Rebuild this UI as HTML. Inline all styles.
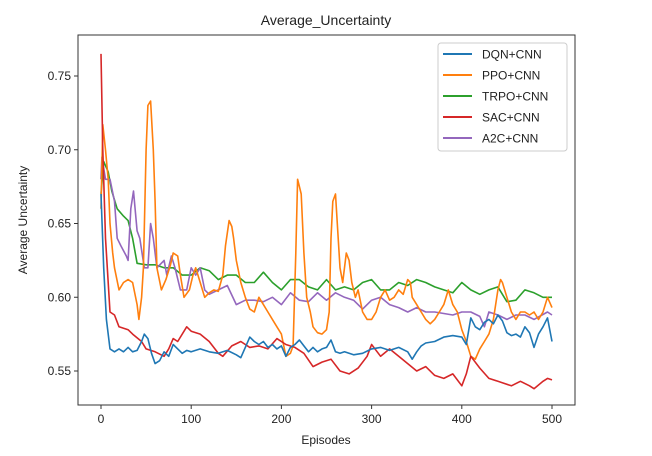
<!DOCTYPE html>
<html><head><meta charset="utf-8"><style>
body{margin:0;background:#fff}
svg{display:block;font-family:"Liberation Sans","DejaVu Sans",sans-serif}
</style></head><body>
<svg id="chart" width="652" height="456">
<rect x="0" y="0" width="652" height="456" fill="#fff"/>
<text x="326" y="25" text-anchor="middle" font-size="14" fill="#222">Average_Uncertainty</text>
<g id="axes"></g>
<g id="series"></g>
<rect x="78" y="35" width="497" height="370" fill="none" stroke="#333" stroke-width="1"/>
<text x="326" y="444" text-anchor="middle" font-size="12" fill="#222">Episodes</text>
<text transform="translate(27,220) rotate(-90)" text-anchor="middle" font-size="12" fill="#222">Average Uncertainty</text>
<g id="legend"></g>
</svg>
<script>
const xTicks=[0,100,200,300,400,500];
const yTicks=[0.55,0.60,0.65,0.70,0.75];
const seriesNames=["DQN+CNN","PPO+CNN","TRPO+CNN","SAC+CNN","A2C+CNN"];
const seriesColors=["#1f77b4","#ff7f0e","#2ca02c","#d62728","#9467bd"];
const dqnX=[0,3,6,10,15,20,25,30,35,40,45,48,52,56,60,65,70,75,80,85,90,95,100,110,120,130,140,150,155,160,165,170,175,180,185,190,195,200,205,210,215,220,225,230,235,240,245,250,255,260,265,270,280,290,300,310,320,330,340,345,350,355,360,370,380,390,400,405,410,415,420,425,430,435,440,445,450,455,460,465,470,475,480,485,490,495,500];
const dqnY=[0.67,0.62,0.585,0.565,0.563,0.565,0.563,0.566,0.563,0.564,0.57,0.575,0.572,0.562,0.555,0.557,0.563,0.56,0.568,0.565,0.562,0.564,0.563,0.565,0.563,0.562,0.564,0.561,0.559,0.566,0.573,0.57,0.568,0.57,0.566,0.568,0.565,0.567,0.56,0.566,0.568,0.571,0.567,0.563,0.566,0.563,0.565,0.566,0.571,0.563,0.562,0.563,0.561,0.562,0.565,0.566,0.564,0.566,0.563,0.558,0.563,0.567,0.569,0.57,0.573,0.574,0.573,0.568,0.586,0.58,0.578,0.583,0.585,0.582,0.588,0.584,0.576,0.574,0.575,0.573,0.58,0.576,0.566,0.575,0.58,0.586,0.57];
const ppoX=[0,2,5,8,10,13,15,20,25,30,35,40,42,45,47,50,52,55,58,60,62,67,72,77,80,85,88,92,98,102,105,110,115,120,125,130,135,138,142,145,147,150,155,160,165,170,175,180,185,190,195,200,205,210,213,216,218,220,222,225,228,232,235,240,245,250,253,255,257,260,263,265,268,272,275,278,282,285,290,295,300,305,310,315,320,325,330,335,340,343,345,350,355,360,365,370,375,380,385,390,395,400,405,410,415,420,425,430,435,440,443,445,450,455,460,465,470,475,480,485,490,495,500];
const ppoY=[0.66,0.717,0.70,0.68,0.65,0.63,0.62,0.605,0.61,0.612,0.61,0.595,0.585,0.6,0.62,0.70,0.73,0.733,0.70,0.665,0.62,0.605,0.612,0.622,0.63,0.628,0.615,0.60,0.605,0.615,0.62,0.61,0.60,0.603,0.605,0.604,0.615,0.635,0.652,0.648,0.64,0.625,0.61,0.60,0.592,0.59,0.60,0.595,0.59,0.585,0.58,0.575,0.56,0.562,0.567,0.63,0.68,0.675,0.67,0.63,0.60,0.59,0.58,0.576,0.575,0.578,0.59,0.64,0.665,0.67,0.64,0.62,0.61,0.63,0.625,0.61,0.60,0.605,0.59,0.585,0.585,0.59,0.60,0.605,0.598,0.60,0.605,0.602,0.612,0.61,0.60,0.595,0.59,0.585,0.582,0.585,0.59,0.595,0.605,0.595,0.59,0.578,0.57,0.56,0.558,0.565,0.57,0.575,0.585,0.605,0.612,0.61,0.60,0.59,0.585,0.59,0.59,0.588,0.59,0.585,0.59,0.6,0.593];
const trpoX=[0,3,8,12,18,25,30,35,40,50,60,70,80,90,100,110,120,130,140,150,160,170,180,190,200,210,220,230,240,250,260,270,280,290,300,310,320,330,340,350,360,370,380,390,400,410,420,430,440,450,460,470,480,490,500];
const trpoY=[0.67,0.692,0.685,0.672,0.66,0.655,0.652,0.64,0.623,0.622,0.622,0.62,0.62,0.615,0.615,0.62,0.618,0.612,0.615,0.615,0.61,0.61,0.617,0.61,0.605,0.612,0.612,0.607,0.605,0.612,0.605,0.607,0.605,0.61,0.612,0.605,0.605,0.61,0.608,0.612,0.61,0.607,0.605,0.603,0.61,0.605,0.602,0.605,0.607,0.597,0.598,0.605,0.603,0.6,0.6];
const sacX=[0,2,5,10,15,20,30,35,45,50,60,70,75,80,85,95,100,110,120,130,135,145,155,165,175,185,195,205,215,225,235,245,255,265,275,285,295,300,310,320,330,340,350,360,370,380,390,400,405,410,420,430,440,455,465,475,480,490,495,500];
const sacY=[0.765,0.70,0.64,0.59,0.588,0.58,0.578,0.575,0.57,0.565,0.563,0.56,0.565,0.572,0.57,0.58,0.577,0.575,0.57,0.562,0.56,0.567,0.57,0.566,0.567,0.565,0.572,0.568,0.566,0.562,0.553,0.556,0.558,0.55,0.548,0.552,0.56,0.568,0.56,0.565,0.56,0.555,0.55,0.553,0.547,0.545,0.548,0.54,0.548,0.56,0.552,0.545,0.543,0.54,0.543,0.54,0.538,0.543,0.545,0.544];
const a2cX=[0,1,5,10,15,18,22,28,30,33,36,40,43,48,52,55,58,62,70,73,78,82,88,95,100,105,110,115,120,130,140,150,160,170,180,190,200,210,220,230,240,250,260,270,280,290,300,310,320,330,340,350,360,370,380,390,400,410,420,425,430,440,450,460,470,480,495,500];
const a2cY=[0.68,0.695,0.68,0.68,0.665,0.64,0.635,0.628,0.625,0.66,0.672,0.645,0.64,0.62,0.62,0.65,0.64,0.62,0.625,0.615,0.628,0.62,0.605,0.605,0.62,0.615,0.62,0.605,0.602,0.605,0.608,0.595,0.598,0.598,0.597,0.6,0.595,0.603,0.598,0.597,0.603,0.598,0.603,0.6,0.598,0.592,0.598,0.6,0.595,0.593,0.59,0.593,0.59,0.59,0.589,0.588,0.59,0.59,0.587,0.58,0.59,0.588,0.585,0.588,0.588,0.585,0.59,0.588];
const xs=[dqnX,ppoX,trpoX,sacX,a2cX];
const ys=[dqnY,ppoY,trpoY,sacY,a2cY];

const NS="http://www.w3.org/2000/svg";
function sx(v){return 101+(v-0)*(552-101)/500;}
function sy(v){return 371-(v-0.55)*(371-76)/0.20;}
const axes=document.getElementById('axes');
xTicks.forEach(t=>{
  const l=document.createElementNS(NS,'line');
  l.setAttribute('x1',sx(t));l.setAttribute('x2',sx(t));l.setAttribute('y1',405);l.setAttribute('y2',409);l.setAttribute('stroke','#333');
  
  
  axes.appendChild(l);
  const tx=document.createElementNS(NS,'text');
  tx.setAttribute('x',sx(t));tx.setAttribute('y',423);tx.setAttribute('text-anchor','middle');tx.setAttribute('font-size','12');tx.setAttribute('fill','#222');
  tx.textContent=t;
  
  
  axes.appendChild(tx);
});
yTicks.forEach(t=>{
  const l=document.createElementNS(NS,'line');
  l.setAttribute('x1',74);l.setAttribute('x2',78);l.setAttribute('y1',sy(t));l.setAttribute('y2',sy(t));l.setAttribute('stroke','#333');
  
  
  axes.appendChild(l);
  const tx=document.createElementNS(NS,'text');
  tx.setAttribute('x',71);tx.setAttribute('y',sy(t)+4);tx.setAttribute('text-anchor','end');tx.setAttribute('font-size','12');tx.setAttribute('fill','#222');
  tx.textContent=t.toFixed(2);
  
  
  axes.appendChild(tx);
});
const sg=document.getElementById('series');
const order=[2,4,1,3,0];
order.forEach(i=>{
  const p=document.createElementNS(NS,'polyline');
  p.setAttribute('points',xs[i].map((x,k)=>sx(x).toFixed(1)+','+sy(ys[i][k]).toFixed(1)).join(' '));
  p.setAttribute('fill','none');p.setAttribute('stroke',seriesColors[i]);p.setAttribute('stroke-width','1.6');p.setAttribute('stroke-linejoin','round');
  
  
  sg.appendChild(p);
});
const lg=document.getElementById('legend');
const box=document.createElementNS(NS,'rect');
box.setAttribute('x',438);box.setAttribute('y',43);box.setAttribute('width',129);box.setAttribute('height',108);box.setAttribute('rx',3);
box.setAttribute('fill','#fff');box.setAttribute('stroke','#ccc');


lg.appendChild(box);
seriesNames.forEach((n,i)=>{
  const y=54+i*21;
  const l=document.createElementNS(NS,'line');
  l.setAttribute('x1',443);l.setAttribute('x2',472);l.setAttribute('y1',y);l.setAttribute('y2',y);l.setAttribute('stroke',seriesColors[i]);l.setAttribute('stroke-width','2');
  
  
  lg.appendChild(l);
  const t=document.createElementNS(NS,'text');
  t.setAttribute('x',482);t.setAttribute('y',y+4.5);t.setAttribute('font-size','12');t.setAttribute('fill','#222');
  t.textContent=n;
  
  
  lg.appendChild(t);
});
</script>
</body></html>
